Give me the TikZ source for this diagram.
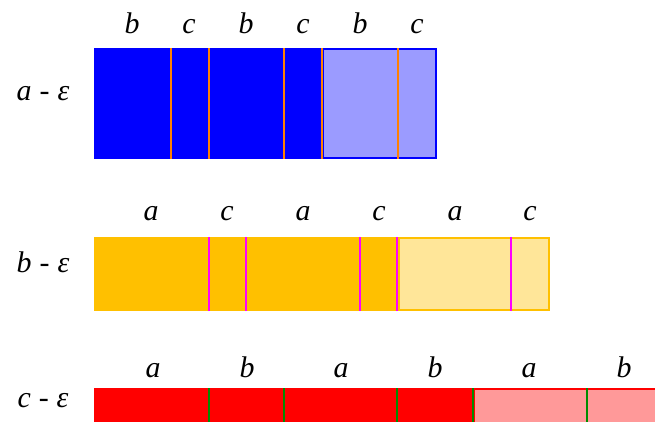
\documentclass[tikz,border=0pt]{standalone}
\usepackage{fontspec}
\setmainfont{Liberation Serif}
\definecolor{dblue}{RGB}{0,0,255}
\definecolor{lblue}{RGB}{155,155,255}
\definecolor{lorange}{RGB}{255,128,0}
\definecolor{amber}{RGB}{255,192,0}
\definecolor{lamber}{RGB}{255,230,153}
\definecolor{mag}{RGB}{255,0,255}
\definecolor{dred}{RGB}{255,0,0}
\definecolor{lred}{RGB}{255,153,153}
\definecolor{dgreen}{RGB}{0,140,0}
\newcommand{\gapsp}{\hspace{8bp}}
\tikzset{
  lab/.style={anchor=base,inner sep=0pt,font=\fontsize{30}{34}\selectfont\itshape},
  sep/.style={line width=2.2bp}
}
\begin{document}
\begin{tikzpicture}[x=1bp,y=-1bp]
\useasboundingbox (0,0) rectangle (655,421);
\clip (0,0) rectangle (655,421);
% row 1
\fill[dblue] (94,48) rectangle (437,159);
\draw[dblue,line width=2bp,fill=lblue] (323,49) rectangle (436,158);
\foreach \x in {171,209,284,322,398} \draw[sep,lorange] (\x,48) -- (\x,159);
\node[lab] (r1) at (43,100) {a\gapsp-\gapsp ε};
\foreach \x/\t [count=\i] in {132/b,189/c,246/b,303/c,360/b,417/c}
  \node[lab] (t1\i) at (\x,33) {\t};
% row 2
\fill[amber] (94,237) rectangle (550,311);
\draw[amber,line width=2bp,fill=lamber] (399,238) rectangle (549,310);
\foreach \x in {209,246,360,397,511} \draw[sep,mag] (\x,237) -- (\x,311);
\node[lab] (r2) at (43,272) {b\gapsp-\gapsp ε};
\foreach \x/\t [count=\i] in {151/a,227/c,303/a,379/c,455/a,530/c}
  \node[lab] (t2\i) at (\x,220) {\t};
% row 3
\fill[dred] (94,388) rectangle (664,426);
\draw[dred,line width=2bp,fill=lred] (474,389) rectangle (663,425);
\foreach \x in {209,284,397,473,587} \draw[sep,dgreen] (\x,388) -- (\x,426);
\node[lab] (r3) at (43,407) {c\gapsp-\gapsp ε};
\foreach \x/\t [count=\i] in {153/a,247/b,341/a,435/b,529/a,624/b}
  \node[lab] (t3\i) at (\x,377) {\t};
\end{tikzpicture}
\end{document}
